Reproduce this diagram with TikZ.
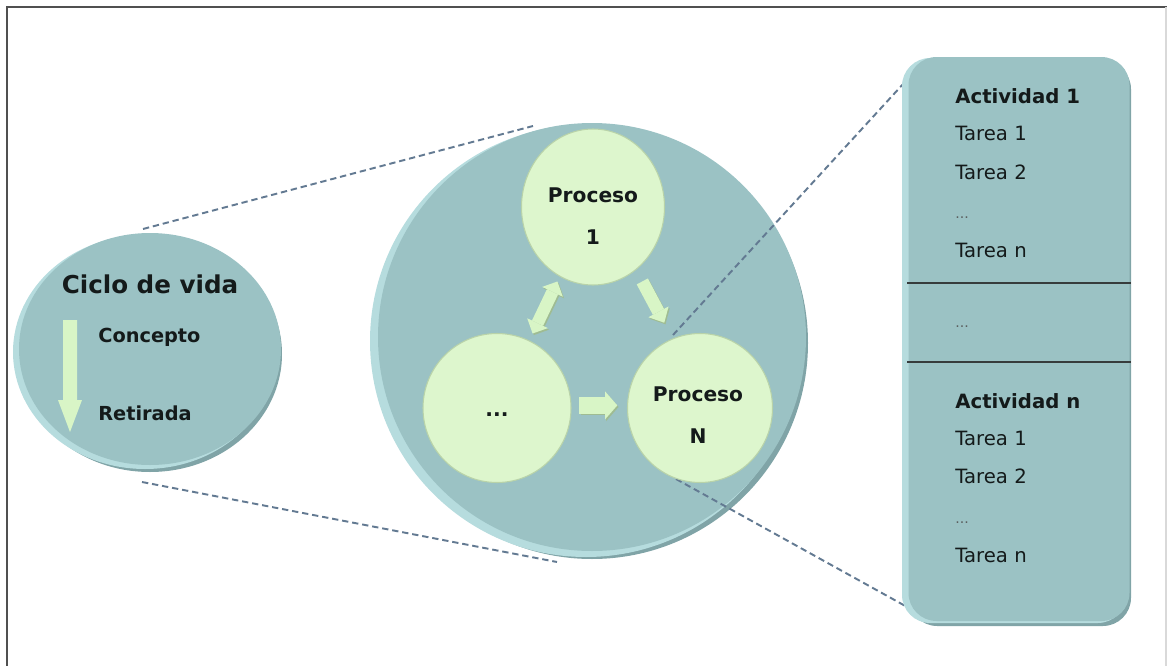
\documentclass[tikz,border=0pt]{standalone}
\usepackage{fontspec}
\setmainfont{DejaVu Sans}
\usetikzlibrary{shapes.geometric,arrows.meta}
\definecolor{tealfill}{HTML}{9BC2C4}
\definecolor{tealrim}{HTML}{B6DCDE}
\definecolor{tealshade}{HTML}{80A4A7}
\definecolor{procfill}{HTML}{DDF6CD}
\definecolor{procedge}{HTML}{B9D3A9}
\definecolor{arrowfill}{HTML}{D8F5C6}
\definecolor{arrowedge}{HTML}{9FBC92}
\definecolor{dashcol}{HTML}{637A92}
\definecolor{txt}{HTML}{141A1A}
\definecolor{framecol}{HTML}{505050}
\begin{document}
\begin{tikzpicture}[x=0.02cm,y=-0.02cm,
  rimfill/.style={fill=tealrim,draw=none},
  shadefill/.style={fill=tealshade,draw=none},
  mainfill/.style={fill=tealfill,draw=none},
  proc/.style={ellipse,fill=procfill,draw=procedge,line width=0.6pt,inner sep=0pt},
  conn/.style={draw=dashcol,line width=1.1pt,dash pattern=on 3.6pt off 2.2pt},
  fatarrow/.style={line width=9.6pt,-{Triangle[length=7pt,width=16pt,line width=0pt]}},
  slimarrow/.style={line width=7.2pt,-{Triangle[length=7pt,width=13pt,line width=0pt]}},
  fatdouble/.style={line width=7pt,{Triangle[length=6.5pt,width=13pt,line width=0pt]}-{Triangle[length=6.5pt,width=13pt,line width=0pt]}},
  arrshadow/.style={draw=arrowedge,transform canvas={xshift=0.7pt,yshift=-0.9pt}},
  arrtop/.style={draw=arrowfill},
  bigtxt/.style={font=\bfseries\fontsize{14}{16}\selectfont,text=txt,inner sep=0pt},
  boldtxt/.style={font=\bfseries\fontsize{11}{13}\selectfont,text=txt,inner sep=0pt},
  proctxt/.style={font=\bfseries\fontsize{11.5}{13}\selectfont,text=txt,inner sep=0pt,anchor=base},
  tasktxt/.style={font=\fontsize{11.2}{13}\selectfont,text=txt,inner sep=0pt,anchor=base west},
  acttxt/.style={font=\bfseries\fontsize{11.2}{13}\selectfont,text=txt,inner sep=0pt,anchor=base west},
  dotstxt/.style={font=\fontsize{8}{10}\selectfont,text=txt!70,inner sep=0pt,anchor=base west},
  divider/.style={draw=txt!85,line width=1.1pt}]
\useasboundingbox (0,0) rectangle (1167,666);
% frame
\draw[framecol,line width=1.2pt] (7,666) -- (7,7) -- (1167,7);
\draw[black!15,line width=0.6pt] (1166,7) -- (1166,666);

% coordinates for dashed connectors
\coordinate (l1a) at (143,229);
\coordinate (l1b) at (533,126);
\coordinate (l2a) at (142,482);
\coordinate (l2b) at (557,562);
\coordinate (l3a) at (673,335);
\coordinate (l3b) at (915,71);
\coordinate (l4a) at (676,479);
\coordinate (l4b) at (918,613);

\draw[conn] (l1a) -- (l1b);
\draw[conn] (l2a) -- (l2b);

% left circle
\fill[shadefill] (150,354) ellipse [x radius=132,y radius=118];
\fill[rimfill] (145,352) ellipse [x radius=132,y radius=117];
\node[ellipse,mainfill,minimum width=262*0.02cm,minimum height=232*0.02cm,inner sep=0pt] (life) at (150,349) {};
\node[bigtxt,anchor=base] (lifet) at (150,293) {Ciclo de vida};
\fill[arrowfill] (63,320) -- (77,320) -- (77,400) -- (82,400) -- (70,432) -- (58,400) -- (63,400) -- cycle;
\node[boldtxt,anchor=base west] (conc) at (98,342) {Concepto};
\node[boldtxt,anchor=base west] (ret) at (98,420) {Retirada};

% middle big circle
\fill[shadefill] (592,343) circle [radius=216];
\fill[rimfill] (586,341) circle [radius=216];
\node[circle,mainfill,minimum size=428*0.02cm,inner sep=0pt] (big) at (592,337) {};

\draw[conn] (l3a) -- (l3b);
\draw[conn] (l4a) -- (l4b);

% process circles
\node[proc,minimum width=143*0.02cm,minimum height=156*0.02cm] (p1) at (593,207) {};
\node[proc,minimum width=148*0.02cm,minimum height=149*0.02cm] (dots) at (497,408) {};
\node[proc,minimum width=145*0.02cm,minimum height=149*0.02cm] (pn) at (700,408) {};

\node[proctxt] (p1a) at (593,202) {Proceso};
\node[proctxt] (p1b) at (593,244) {1};
\node[proctxt] (pna) at (698,401) {Proceso};
\node[proctxt] (pnb) at (698,443) {N};
\node[proctxt] (dotst) at (497,416) {...};

% fat arrows (shadow, then light body)
\draw[fatdouble,arrshadow,shorten <=47pt,shorten >=47pt] (dots.center) -- (p1.center);
\draw[fatdouble,arrtop,shorten <=47pt,shorten >=47pt] (dots.center) -- (p1.center);
\draw[slimarrow,arrshadow,shorten <=48pt,shorten >=55pt] ([xshift=5.5pt]p1.center) -- ([xshift=5.5pt]pn.center);
\draw[slimarrow,arrtop,shorten <=48pt,shorten >=55pt] ([xshift=5.5pt]p1.center) -- ([xshift=5.5pt]pn.center);
\draw[fatarrow,arrshadow,shorten <=4.5pt,shorten >=5.5pt] ([yshift=1.5pt]dots.east) -- ([yshift=1.5pt]pn.west);
\draw[fatarrow,arrtop,shorten <=4.5pt,shorten >=5.5pt] ([yshift=1.5pt]dots.east) -- ([yshift=1.5pt]pn.west);

% right box
\fill[shadefill,rounded corners=16pt] (909,61) rectangle (1131,626);
\fill[rimfill,rounded corners=16pt] (902,58) rectangle (1126,623);
\node[rectangle,mainfill,rounded corners=16pt,minimum width=221*0.02cm,minimum height=564*0.02cm,inner sep=0pt] (box) at (1019,339) {};
\draw[divider] (907,283) -- (1131,283);
\draw[divider] (907,362) -- (1131,362);

\node[acttxt] (a1) at (955,103) {Actividad 1};
\node[tasktxt] (a1t1) at (955,140) {Tarea 1};
\node[tasktxt] (a1t2) at (955,179) {Tarea 2};
\node[dotstxt] (a1d) at (955,218) {...};
\node[tasktxt] (a1tn) at (955,257) {Tarea n};
\node[dotstxt] (midd) at (955,327) {...};
\node[acttxt] (an) at (955,408) {Actividad n};
\node[tasktxt] (ant1) at (955,445) {Tarea 1};
\node[tasktxt] (ant2) at (955,483) {Tarea 2};
\node[dotstxt] (and) at (955,523) {...};
\node[tasktxt] (antn) at (955,562) {Tarea n};
\end{tikzpicture}
\end{document}
